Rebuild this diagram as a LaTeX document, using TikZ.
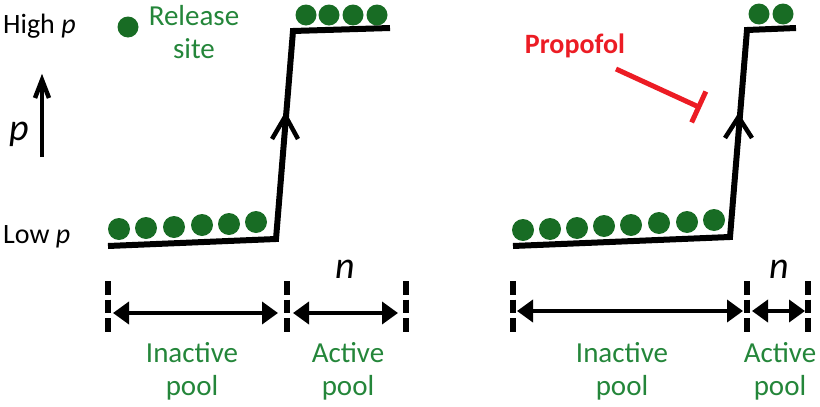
\documentclass[tikz,border=0pt]{standalone}
\usepackage{fontspec}
\setmainfont{Carlito}
\usetikzlibrary{arrows.meta}
\definecolor{tgreen}{RGB}{36,134,58}
\definecolor{dgreen}{RGB}{24,108,36}
\definecolor{pred}{RGB}{236,28,36}
\begin{document}
\begin{tikzpicture}[x=1pt,y=-1pt,
  lbl/.style={inner sep=0pt, font=\fontsize{28}{33}\selectfont},
  glbl/.style={inner sep=0pt, text=tgreen, align=center, font=\fontsize{29}{33}\selectfont},
  bigit/.style={inner sep=0pt, font=\fontsize{38}{40}\selectfont\itshape},
  dot/.style={circle, fill=dgreen, minimum size=22pt, inner sep=0pt},
  sdot/.style={circle, fill=dgreen, minimum size=21pt, inner sep=0pt},
  stair/.style={line width=6pt, line join=miter},
  chev/.style={line width=4.5pt, line join=miter, line cap=butt},
  tickline/.style={line width=5.5pt, dash pattern=on 13.5pt off 5pt},
  span/.style={line width=3.8pt, {Triangle[length=16pt,width=22pt]}-{Triangle[length=16pt,width=22pt]}},
  inhib/.style={line width=5pt, draw=pred, -{Bar[width=34pt]}}
]
\useasboundingbox (0,0) rectangle (820,407);

% ---------- left labels ----------
\node[lbl, anchor=base west] (high) at (3,33) {High \textit{p}};
\node[lbl, anchor=base west] (low) at (3,243) {Low \textit{p}};
\node[bigit, anchor=base] (pl) at (19,140) {p};
\coordinate (pa0) at (42,157);
\coordinate (pa1) at (42,80);
\draw[line width=4.5pt] (pa0) -- (pa1);
\draw[chev] (35,98) -- (pa1) -- (49,98);

\node[sdot] (rdot) at (128,27) {};
\node[glbl, anchor=base] (rel) at (194,58) {Release\\site};

% ---------- left staircase ----------
\coordinate (L0) at (108,246);
\coordinate (L1) at (276,239);
\coordinate (L2) at (293,31);
\coordinate (L3) at (390,28);
\draw[stair] (L0) -- (L1) -- (L2) -- (L3);
\draw[chev] (272,139) -- (285.5,116) -- (298,139);

\foreach \i/\x/\y in {1/119/229,2/146/228,3/174/227,4/202/225,5/229/224,6/256/222}
  \node[dot] (ld\i) at (\x,\y) {};
\foreach \i/\x in {1/306,2/329,3/353,4/377}
  \node[sdot] (lt\i) at (\x,15) {};

% ---------- left pools ----------
\foreach \n/\x in {ta/108,tb/287,tc/406}{
  \coordinate (\n1) at (\x,281);
  \coordinate (\n2) at (\x,333);
  \draw[tickline] (\n1) -- (\n2);
}
\coordinate (la1) at (113,313);
\coordinate (la2) at (278,313);
\coordinate (la3) at (293,313);
\coordinate (la4) at (398,313);
\draw[span] (la1) -- (la2);
\draw[span] (la3) -- (la4);
\node[bigit, anchor=base] (ln) at (345,278) {n};
\node[glbl, anchor=base] (linact) at (192,395) {Inactive\\pool};
\node[glbl, anchor=base] (lact) at (348,395) {Active\\pool};

% ---------- right staircase ----------
\coordinate (R0) at (513,246);
\coordinate (R1) at (730,237);
\coordinate (R2) at (747,30);
\coordinate (R3) at (796,28);
\draw[stair] (R0) -- (R1) -- (R2) -- (R3);
\draw[chev] (725,138) -- (738.5,117) -- (752,138);

\foreach \i/\x/\y in {1/523/230,2/550/229,3/577/228,4/604/226,5/631/225,6/659/223,7/687/222,8/714/220}
  \node[dot] (rd\i) at (\x,\y) {};
\foreach \i/\x in {1/759,2/783}
  \node[sdot] (rt\i) at (\x,14) {};

\node[inner sep=0pt, text=pred, font=\fontsize{28}{33}\selectfont\bfseries, anchor=base] (prop) at (575,53) {Propofol};
\coordinate (ia) at (616,69);
\coordinate (ib) at (701,108);
\draw[inhib] (ia) -- (ib);

% ---------- right pools ----------
\foreach \n/\x in {td/513,te/747,tf/808}{
  \coordinate (\n1) at (\x,281);
  \coordinate (\n2) at (\x,333);
  \draw[tickline] (\n1) -- (\n2);
}
\coordinate (ra1) at (517,311);
\coordinate (ra2) at (743,311);
\coordinate (ra3) at (752,311);
\coordinate (ra4) at (805,311);
\draw[span] (ra1) -- (ra2);
\draw[span] (ra3) -- (ra4);
\node[bigit, anchor=base] (rn) at (779,278) {n};
\node[glbl, anchor=base] (rinact) at (622,395) {Inactive\\pool};
\node[glbl, anchor=base] (ract) at (780,395) {Active\\pool};
\end{tikzpicture}
\end{document}
